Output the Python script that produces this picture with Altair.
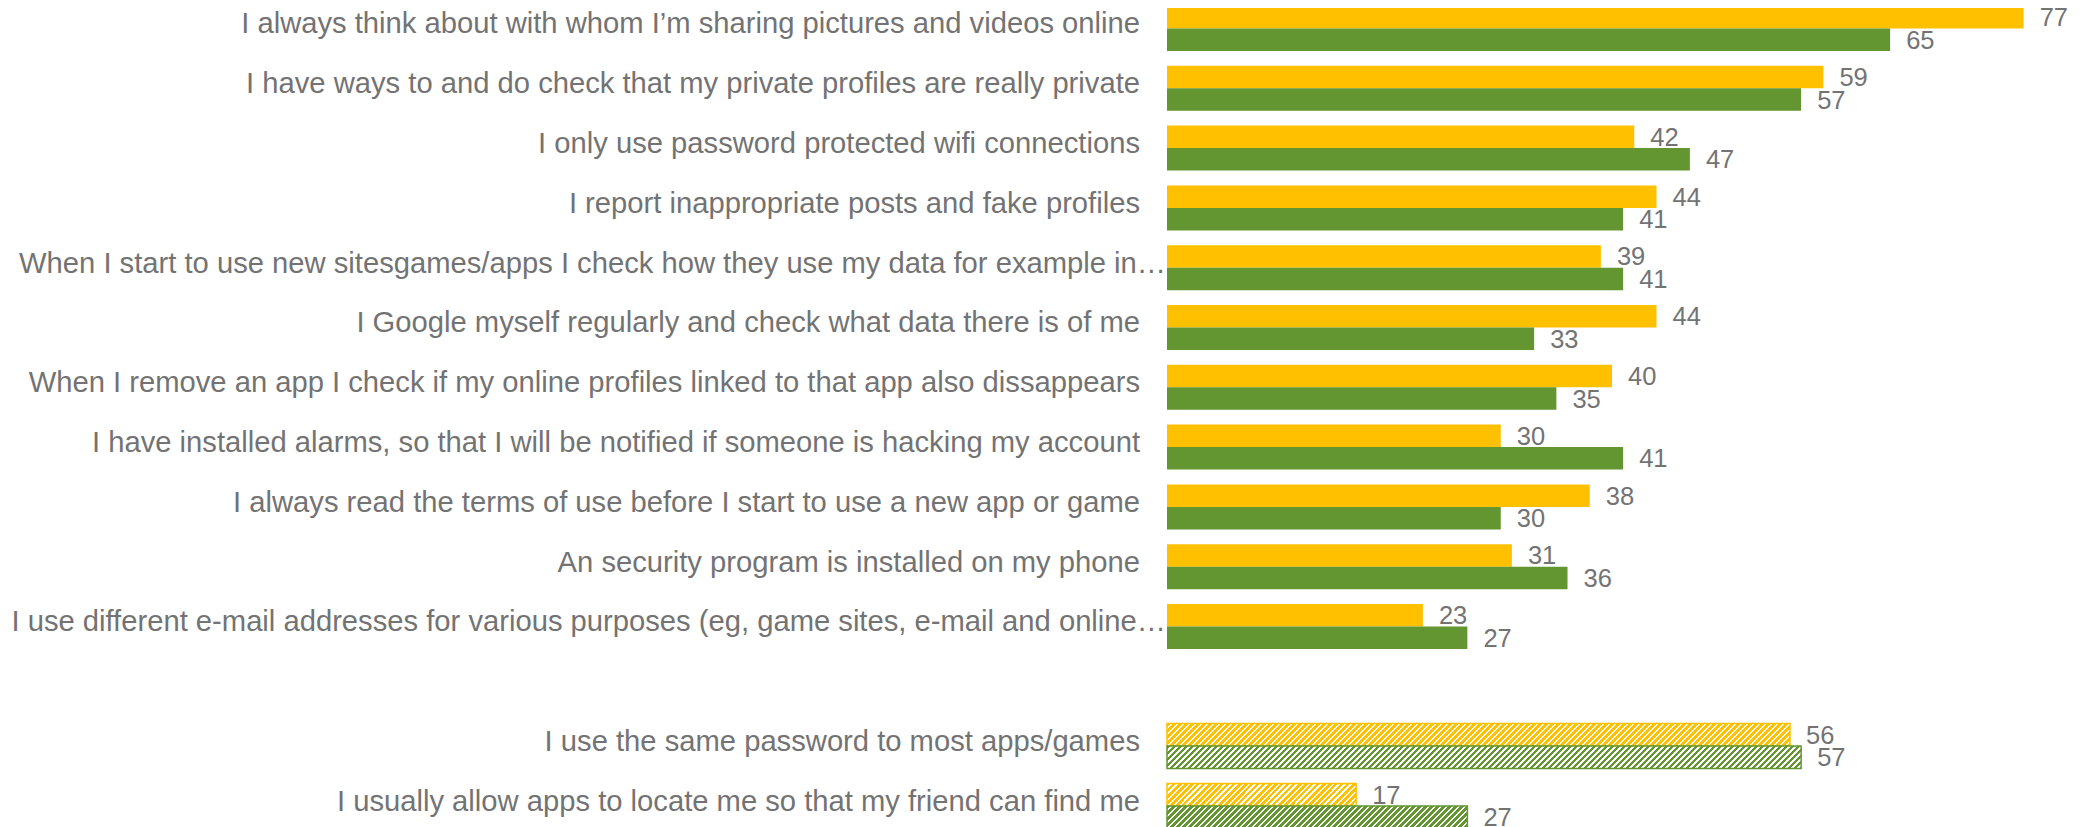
import altair as alt
import pandas as pd

# ---------------- data ----------------
categories = [
    "I always think about with whom I\u2019m sharing pictures and videos online",
    "I have ways to and do check that my private profiles are really private",
    "I only use password protected wifi connections",
    "I report inappropriate posts and fake profiles",
    "When I start to use new sitesgames/apps I check how they use my data for example in\u2026",
    "I Google myself regularly and check what data there is of me",
    "When I remove an app I check if my online profiles linked to that app also dissappears",
    "I have installed alarms, so that I will be notified if someone is hacking my account",
    "I always read the terms of use before I start to use a new app or game",
    "An security program is installed on my phone",
    "I use different e-mail addresses for various purposes (eg, game sites, e-mail and online\u2026",
    "I use the same password to most apps/games",
    "I usually allow apps to locate me so that my friend can find me",
]
series_names = ["Series 1", "Series 2"]
values_s1 = [77, 59, 42, 44, 39, 44, 40, 30, 38, 31, 23, 56, 17]
values_s2 = [65, 57, 47, 41, 41, 33, 35, 41, 30, 36, 27, 57, 27]
hatched_rows = [False] * 11 + [True] * 2
gap_label = " "

# ---------------- styles / layout ----------------
COLORS = ["#FFC000", "#639531"]
TEXT_GRAY = "#737373"
FONT = "Liberation Sans"
LABEL_SIZE = 29.2
X_MAX = 80
PLOT_W = 890
PLOT_H = 820
STEP = 59.8
P_IN = 0.2475
P_OUT = 0.124
R0 = -2 - STEP * P_OUT
R1 = R0 + STEP * (14 - P_IN + 2 * P_OUT)
PX_PER_UNIT = PLOT_W / X_MAX
BAR_H = STEP * (1 - P_IN) / 2

domain = categories[:11] + [gap_label] + categories[11:]

rows = []
k = 0
for i, cat in enumerate(categories):
    for s, vals in zip(series_names, [values_s1, values_s2]):
        rows.append({"idx": k, "category": cat, "series": s, "value": vals[i],
                     "hatched": hatched_rows[i]})
        k += 1
df = pd.DataFrame(rows)

cat_df = pd.DataFrame({"category": categories,
                       "truncated": [c.endswith("\u2026") for c in categories]})

y_enc = alt.Y("category:N",
              scale=alt.Scale(domain=domain, range=[R0, R1],
                              paddingInner=P_IN, paddingOuter=P_OUT),
              axis=None)
yoff_enc = alt.YOffset("series:N", scale=alt.Scale(domain=series_names))
x_enc = alt.X("value:Q", scale=alt.Scale(domain=[0, X_MAX]), axis=None)


def hatch(color, w, h, period=6.0, frac=0.6):
    # gradient vector scaled so that t runs 0..1 from top-left to bottom-right corner
    a = w * (w + h) / (w * w + h * h)
    dt = period / (w + h)
    stops = []
    t = 0.0
    while t < 1:
        s0 = round(t, 5)
        s1 = round(min(t + frac * dt, 1), 5)
        s2 = round(min(t + dt, 1), 5)
        stops += [{"offset": s0, "color": color}, {"offset": s1, "color": color},
                  {"offset": s1, "color": "#ffffff"}, {"offset": s2, "color": "#ffffff"}]
        t += dt
    return {"gradient": "linear", "x1": 0, "y1": 0,
            "x2": round(a, 5), "y2": round(a * h / w, 5), "stops": stops}


base = alt.Chart(df)

solid = base.transform_filter("!datum.hatched").mark_bar().encode(
    x=x_enc, y=y_enc, yOffset=yoff_enc,
    color=alt.Color("series:N", scale=alt.Scale(domain=series_names, range=COLORS),
                    legend=None),
)

layers = [solid]
for _, r in df[df["hatched"]].iterrows():
    col = COLORS[series_names.index(r["series"])]
    w = r["value"] * PX_PER_UNIT
    layers.append(
        alt.Chart(df).transform_filter(f"datum.idx == {int(r['idx'])}").mark_bar(
            fill=hatch(col, w, BAR_H), stroke=col, strokeWidth=1.5
        ).encode(x=x_enc, y=y_enc, yOffset=yoff_enc)
    )

values_text = base.mark_text(
    align="left", baseline="alphabetic", dx=16, dy=9, fontSize=25.5,
    font=FONT, color=TEXT_GRAY
).encode(x=x_enc, y=y_enc, yOffset=yoff_enc, text=alt.Text("value:Q"))
layers.append(values_text)

labels_normal = alt.Chart(cat_df).transform_filter("!datum.truncated").mark_text(
    align="right", baseline="alphabetic", dx=-27, dy=5, fontSize=LABEL_SIZE,
    font=FONT, color=TEXT_GRAY
).encode(x=alt.datum(0), y=y_enc, text="category:N")
labels_trunc = alt.Chart(cat_df).transform_filter("datum.truncated").mark_text(
    align="right", baseline="alphabetic", dx=-1, dy=5, fontSize=LABEL_SIZE,
    font=FONT, color=TEXT_GRAY
).encode(x=alt.datum(0), y=y_enc, text="category:N")
layers += [labels_normal, labels_trunc]

chart = alt.layer(*layers).properties(
    width=PLOT_W, height=PLOT_H,
    autosize=alt.AutoSizeParams(type="none"),
    padding={"left": 1159, "top": 0, "right": 14, "bottom": 0},
).configure_view(stroke=None)

chart.save("out.html", embed_options={"renderer": "svg", "actions": False})
